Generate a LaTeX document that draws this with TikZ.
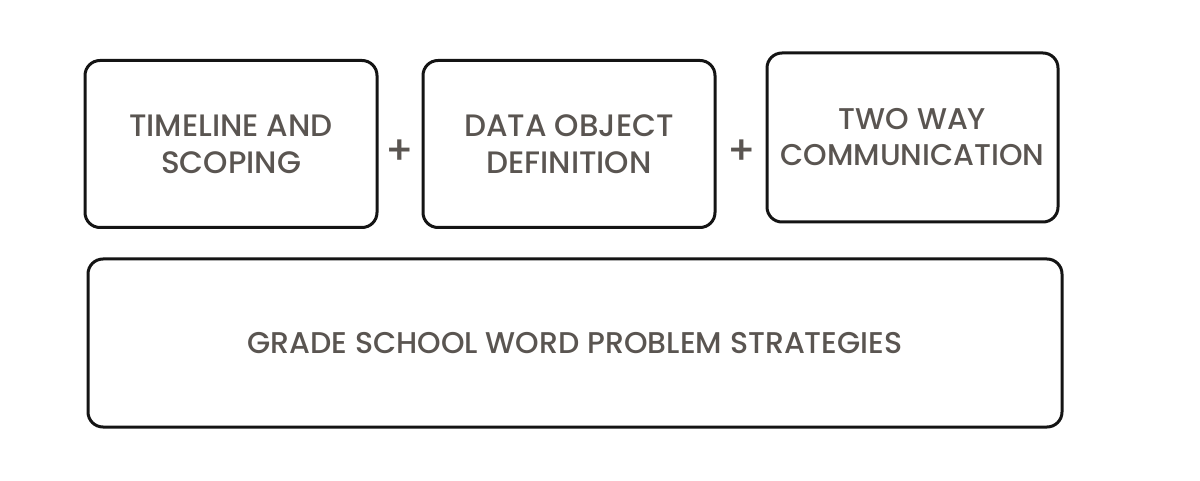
\documentclass[tikz,border=0pt]{standalone}
\usepackage{fontspec}
\setmainfont{Poppins}[UprightFont=* Medium]
\usepackage{xcolor}
\usetikzlibrary{positioning}
\definecolor{labelgrey}{HTML}{5A5551}
\tikzset{
    block/.style={rectangle, rounded corners=15pt, draw=black!92, line width=3pt, minimum width=292pt, minimum height=167pt, align=center, text=labelgrey, font=\fontsize{31}{37}\selectfont},
    base/.style={block, minimum width=974pt, minimum height=168pt, font=\fontsize{30}{36}\selectfont},
    plus/.style={text=labelgrey, font=\fontsize{40}{40}\selectfont}
}
\begin{document}
\begin{tikzpicture}[x=1pt, y=-1pt]
            \useasboundingbox (0,0) rectangle (1200,481);
            \node (timeline) [block] at (231,144) {TIMELINE AND\\SCOPING};
            \node (dataobj) [block] at (569,144) {DATA OBJECT\\DEFINITION};
            \node (twoway) [block, minimum width=291pt, minimum height=169pt, font=\fontsize{30}{36}\selectfont] at (912.5,137.5) {TWO WAY\\COMMUNICATION};
            \node (plusA) [plus] at (400,152) {+};
            \node (plusB) [plus] at (742,152) {+};
            \node (grade) [base] at (575,343) {GRADE SCHOOL WORD PROBLEM STRATEGIES};
        \end{tikzpicture}
\end{document}
